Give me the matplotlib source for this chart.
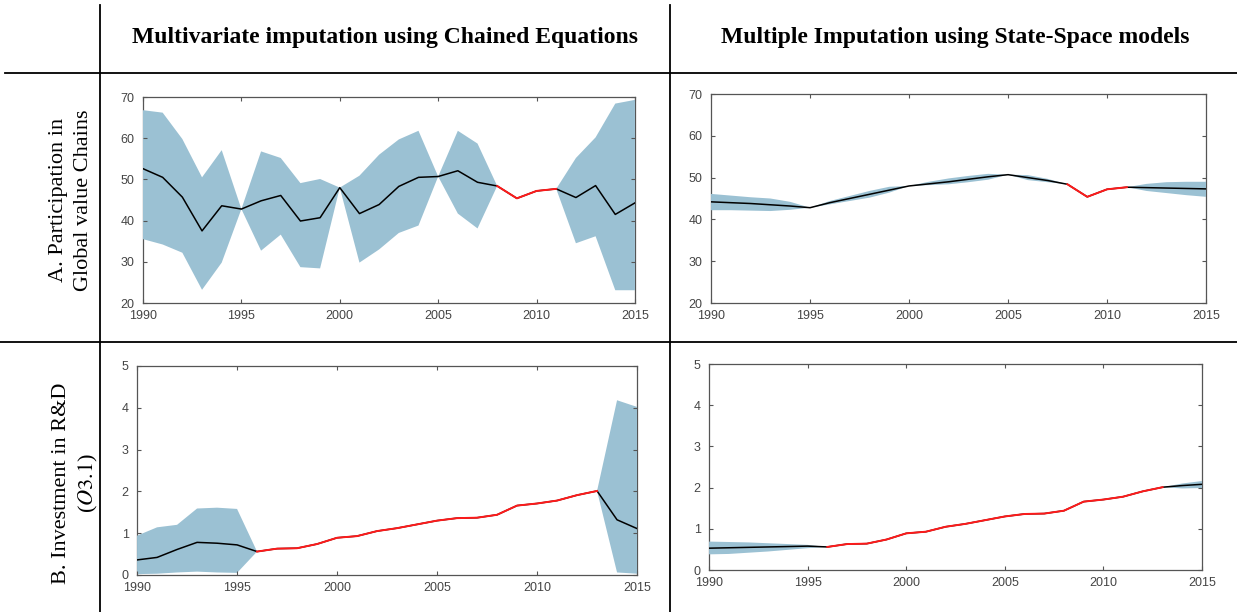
import numpy as np
from matplotlib import pyplot as plt

years = np.arange(1990, 2016)
nan = np.nan

# A. Participation in global value chains - MICE
gvc_mice = [52.6, 50.5, 45.7, 37.5, 43.6, 42.8, 44.8, 46.1, 39.9, 40.7, 48.0, 41.7, 43.9,
            48.3, 50.5, 50.7, 52.1, 49.3, 48.4, 45.4, 47.2, 47.7, 45.6, 48.5, 41.5, 44.3]
gvc_mice_hi = [66.8, 66.2, 59.8, 50.5, 57.1, 42.8, 56.8, 55.2, 49.1, 50.1, 48.0, 50.9, 56.0,
               59.7, 61.8, 50.7, 61.8, 58.7, 48.4, nan, nan, 47.7, 55.2, 60.2, 68.4, 69.3]
gvc_mice_lo = [35.5, 34.2, 32.2, 23.2, 29.8, 42.8, 32.7, 36.6, 28.7, 28.4, 48.0, 29.8, 33.0,
               37.0, 38.8, 50.7, 41.7, 38.1, 48.4, nan, nan, 47.7, 34.5, 36.2, 23.1, 23.1]

# A. Participation in global value chains - state-space
gvc_ss = [44.2, 44.0, 43.8, 43.5, 43.2, 42.8, 44.0, 45.0, 46.0, 47.0, 48.0, 48.5, 49.0,
          49.6, 50.2, 50.7, 50.0, 49.3, 48.4, 45.4, 47.2, 47.7, 47.6, 47.5, 47.4, 47.3]
gvc_ss_hi = [46.1, 45.7, 45.3, 45.0, 44.2, 42.8, 44.4, 45.6, 46.8, 47.8, 48.0, 49.0, 49.8,
             50.4, 50.9, 50.7, 50.6, 49.7, 48.4, nan, nan, 47.7, 48.5, 48.9, 49.0, 49.0]
gvc_ss_lo = [42.2, 42.2, 42.1, 42.0, 42.3, 42.8, 43.6, 44.4, 45.2, 46.4, 48.0, 48.2, 48.4,
             48.9, 49.5, 50.7, 49.4, 48.9, 48.4, nan, nan, 47.7, 46.8, 46.3, 45.8, 45.4]

# B. Investment in R&D - MICE
rd_mice = [0.36, 0.42, 0.61, 0.78, 0.76, 0.72, 0.56, 0.63, 0.64, 0.74, 0.89, 0.93, 1.05,
           1.12, 1.21, 1.30, 1.36, 1.37, 1.44, 1.66, 1.71, 1.78, 1.91, 2.01, 1.32, 1.11]
rd_mice_hi = [0.94, 1.14, 1.20, 1.59, 1.61, 1.58, 0.56] + [nan] * 16 + [2.01, 4.18, 4.02]
rd_mice_lo = [0.02, 0.03, 0.06, 0.08, 0.06, 0.05, 0.56] + [nan] * 16 + [2.01, 0.06, 0.03]

# B. Investment in R&D - state-space
rd_ss = [0.53, 0.54, 0.55, 0.56, 0.57, 0.58, 0.56, 0.63, 0.64, 0.74, 0.89, 0.93, 1.05,
         1.12, 1.21, 1.30, 1.36, 1.37, 1.44, 1.66, 1.71, 1.78, 1.91, 2.01, 2.05, 2.08]
rd_ss_hi = [0.69, 0.68, 0.67, 0.65, 0.63, 0.61, 0.56] + [nan] * 16 + [2.01, 2.10, 2.16]
rd_ss_lo = [0.38, 0.39, 0.42, 0.45, 0.49, 0.53, 0.56] + [nan] * 16 + [2.01, 1.98, 1.99]

# observed (non-imputed) stretch drawn in red: first and last year
gvc_observed = (2008, 2011)
rd_observed = (1996, 2013)

col_titles = ["Multivariate imputation using Chained Equations",
              "Multiple Imputation using State-Space models"]

BAND = "#9bc1d3"
AXC = "#555555"

plt.rcParams["mathtext.fontset"] = "stix"


def draw_panel(ax, mean, hi, lo, observed, ylim, yticks):
  mean = np.array(mean, dtype=float)
  ax.fill_between(years, lo, hi, color=BAND, linewidth=0, zorder=1)
  ax.plot(years, mean, color="black", lw=1.1, zorder=3)
  m = (years >= observed[0]) & (years <= observed[1])
  ax.plot(years[m], mean[m], color="#ff1a1a", lw=1.4, zorder=4)
  ax.set_xlim(1990, 2015)
  ax.set_ylim(*ylim)
  ax.set_xticks(range(1990, 2016, 5))
  ax.set_yticks(yticks)
  ax.tick_params(direction="in", top=True, right=True, length=3, width=0.8,
                 colors=AXC, labelsize=9, labelcolor="#444444")
  ax.tick_params(axis="y", pad=6)
  ax.tick_params(axis="x", pad=5)
  for s in ax.spines.values():
    s.set_color(AXC)
    s.set_linewidth(0.9)
    s.set_zorder(0)
  for lab in ax.get_xticklabels() + ax.get_yticklabels():
    lab.set_family(["Liberation Sans", "DejaVu Sans"])


fig = plt.figure(figsize=(12.37, 6.12), dpi=100)

ax1 = fig.add_axes([0.1156, 0.5049, 0.3977, 0.3366])
ax2 = fig.add_axes([0.5748, 0.5049, 0.4002, 0.3415])
ax3 = fig.add_axes([0.1108, 0.0605, 0.4042, 0.3415])
ax4 = fig.add_axes([0.5732, 0.0686, 0.3985, 0.3366])

draw_panel(ax1, gvc_mice, gvc_mice_hi, gvc_mice_lo, gvc_observed, (20, 70), range(20, 71, 10))
draw_panel(ax2, gvc_ss, gvc_ss_hi, gvc_ss_lo, gvc_observed, (20, 70), range(20, 71, 10))
draw_panel(ax3, rd_mice, rd_mice_hi, rd_mice_lo, rd_observed, (0, 5), range(0, 6))
draw_panel(ax4, rd_ss, rd_ss_hi, rd_ss_lo, rd_observed, (0, 5), range(0, 6))

# table grid lines
W, H = 1237.0, 612.0
for x in (100, 670):
  fig.add_artist(plt.Line2D([x / W, x / W], [0, 1 - 5 / H], color="black", lw=1.3))
fig.add_artist(plt.Line2D([5 / W, 1], [1 - 73 / H, 1 - 73 / H], color="black", lw=1.3))
fig.add_artist(plt.Line2D([0, 1], [1 - 342 / H, 1 - 342 / H], color="black", lw=1.3))

serif = ["Liberation Serif", "DejaVu Serif"]
fig.text(385 / W, 1 - 37 / H, col_titles[0], ha="center", va="center",
         fontsize=17, fontweight="bold", family=serif)
fig.text(955 / W, 1 - 37 / H, col_titles[1], ha="center", va="center",
         fontsize=17, fontweight="bold", family=serif)

fig.text(58 / W, 1 - 200 / H, "A. Participation in", rotation=90, ha="center", va="center",
         fontsize=16, family=serif)
fig.text(84 / W, 1 - 200 / H, "Global value Chains", rotation=90, ha="center", va="center",
         fontsize=16, family=serif)
fig.text(62 / W, 1 - 483 / H, "B. Investment in R&D", rotation=90, ha="center", va="center",
         fontsize=16, family=serif)
fig.text(88 / W, 1 - 483 / H, "($\\mathit{O3.1}$)", rotation=90, ha="center", va="center",
         fontsize=16, family=serif)

plt.savefig("out.png", dpi=100)
